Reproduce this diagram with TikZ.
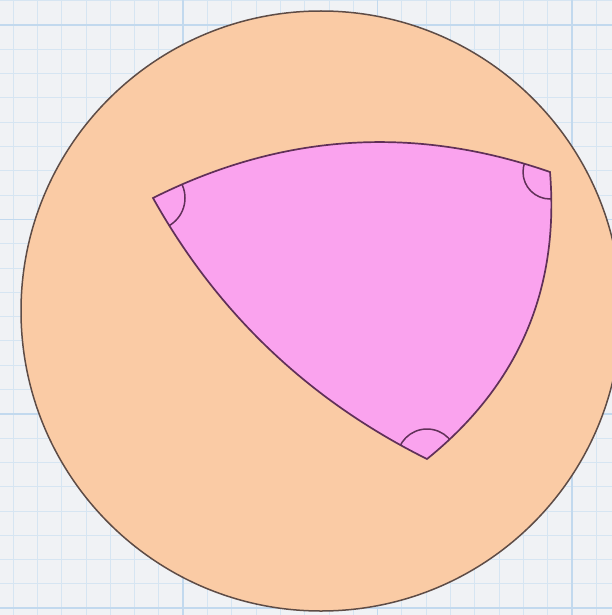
\documentclass[tikz,border=0pt]{standalone}
\definecolor{paper}{HTML}{F0F2F5}
\definecolor{gridminor}{HTML}{D6E5F2}
\definecolor{gridmajor}{HTML}{C2D9EE}
\definecolor{peach}{HTML}{FACBA5}
\definecolor{pinkfill}{HTML}{FAA3EE}
\definecolor{circedge}{HTML}{5E4C46}
\definecolor{triedge}{HTML}{603058}
\begin{document}
\begin{tikzpicture}[x=1pt,y=-1pt,
  minorline/.style={gridminor,line width=0.9pt},
  majorline/.style={gridmajor,line width=1.6pt},
  disc/.style={fill=peach,draw=circedge,line width=1.5pt},
  tri/.style={fill=pinkfill,draw=triedge,line width=1.7pt,line join=miter},
  anglemark/.style={draw=triedge,line width=1.5pt}]
\useasboundingbox (0,0) rectangle (612,615);
\fill[paper] (0,0) rectangle (612,615);
% grid
\foreach \k in {0,...,25}{
  \draw[minorline] ({13.1+24.3*\k},0) -- ({13.1+24.3*\k},615);
  \draw[minorline] (0,{0.7+24.3*\k}) -- (612,{0.7+24.3*\k});
}
\foreach \x in {183.2,377.6,572}{\draw[majorline] (\x,0) -- (\x,615);}
\foreach \y in {25,219.4,413.8,608.2}{\draw[majorline] (0,\y) -- (612,\y);}
% sphere
\coordinate (O) at (321,311);
\draw[disc] (O) circle (300);
% spherical triangle
\coordinate (A) at (153,198);
\coordinate (B) at (550,172);
\coordinate (C) at (427,459);
\def\triPath{(A) .. controls (281.7,133.4) and (414.1,124.8) .. (B)
  .. controls (559.6,289.4) and (518.6,385) .. (C)
  .. controls (308.8,400.2) and (217.4,313.2) .. (A) -- cycle}
\fill[pinkfill] \triPath;
\begin{scope}
  \clip \triPath;
  \draw[anglemark] (A) circle (32);
  \draw[anglemark] (B) circle (27);
  \draw[anglemark] (C) circle (30);
\end{scope}
\draw[tri,fill=none] \triPath;
\end{tikzpicture}
\end{document}
